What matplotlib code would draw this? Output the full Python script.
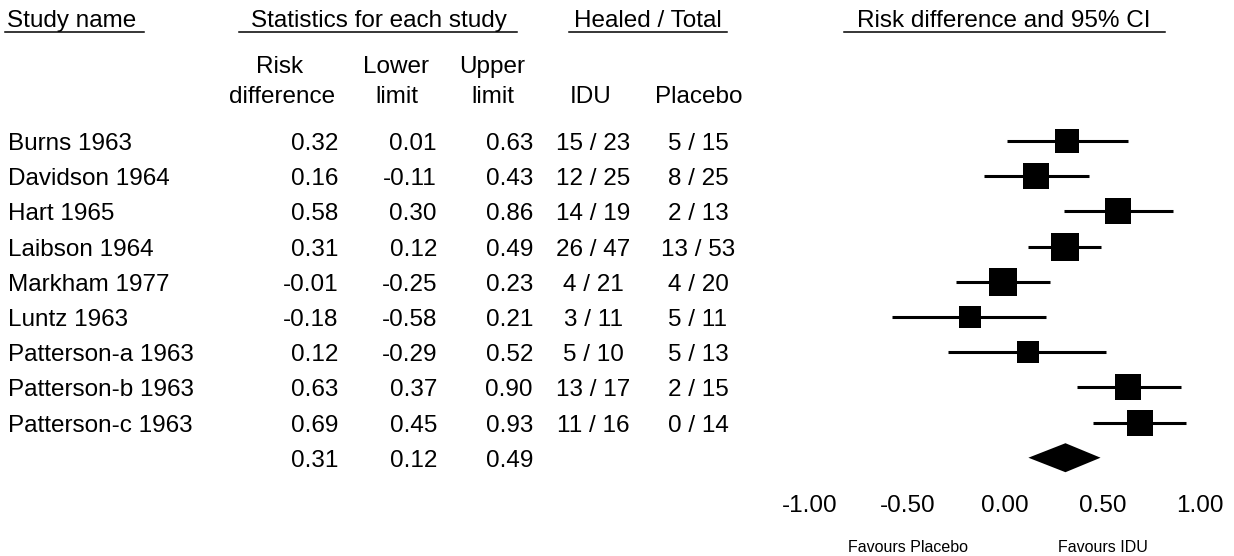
import numpy as np
import matplotlib.pyplot as plt
from matplotlib.patches import Polygon
from matplotlib.transforms import blended_transform_factory

plt.rcParams['font.family'] = ['Liberation Sans', 'DejaVu Sans']

# Study-level data
studies = ["Burns 1963", "Davidson 1964", "Hart 1965", "Laibson 1964",
           "Markham 1977", "Luntz 1963", "Patterson-a 1963",
           "Patterson-b 1963", "Patterson-c 1963"]
risk_diff = [0.32, 0.16, 0.58, 0.31, -0.01, -0.18, 0.12, 0.63, 0.69]
lower = [0.01, -0.11, 0.30, 0.12, -0.25, -0.58, -0.29, 0.37, 0.45]
upper = [0.63, 0.43, 0.86, 0.49, 0.23, 0.21, 0.52, 0.90, 0.93]
idu_healed = [15, 12, 14, 26, 4, 3, 5, 13, 11]
idu_total = [23, 25, 19, 47, 21, 11, 10, 17, 16]
placebo_healed = [5, 8, 2, 13, 4, 5, 5, 2, 0]
placebo_total = [15, 25, 13, 53, 20, 11, 13, 15, 14]
weights = [10.7, 11.5, 11.5, 13.4, 12.5, 9.0, 8.3, 11.5, 11.5]

# Pooled estimate
pooled = 0.31
pooled_lower = 0.12
pooled_upper = 0.49

x_ticks = [-1.0, -0.5, 0.0, 0.5, 1.0]

W, H = 1234, 556
fig = plt.figure(figsize=(W / 100, H / 100), dpi=100)
ax = fig.add_axes([0, 0, 1, 1])
ax.axis('off')

# risk-difference scale: 0 at x=1005px, 195px per unit; rows 35.19px apart from y=141px
ax.set_xlim(-1005 / 195, (W - 1005) / 195)
ax.set_ylim((H - 141) / 35.19, -141 / 35.19)

fs = 17.5
rows = np.arange(len(studies))
base = 9 / 35.19  # baseline offset below row centre

# forest plot
for i in rows:
    ax.plot([lower[i], upper[i]], [i, i], color='black', lw=2.2,
            solid_capstyle='butt', clip_on=False)
    side = 7.64 * np.sqrt(weights[i]) * 0.72
    ax.plot(risk_diff[i], i, marker='s', color='black', markersize=side,
            markeredgewidth=0, clip_on=False)

k = len(studies)
dh = 14.5 / 35.19
ax.add_patch(Polygon([[pooled_lower, k], [pooled, k - dh],
                      [pooled_upper, k], [pooled, k + dh]],
                     closed=True, color='black', lw=0))

for t in x_ticks:
    ax.text(t, (512 - 141) / 35.19, f"{t:.2f}", ha='center', va='baseline',
            fontsize=fs)

ax.text(-0.5, (552 - 141) / 35.19, "Favours Placebo", ha='center',
        va='baseline', fontsize=11.5)
ax.text(0.5, (552 - 141) / 35.19, "Favours IDU", ha='center',
        va='baseline', fontsize=11.5)

# table columns
tr = blended_transform_factory(fig.transFigure, ax.transData)
for i in rows:
    y = i + base
    ax.text(8 / W, y, studies[i], transform=tr, ha='left', va='baseline', fontsize=fs)
    ax.text(338 / W, y, f"{risk_diff[i]:.2f}", transform=tr, ha='right', va='baseline', fontsize=fs)
    ax.text(437 / W, y, f"{lower[i]:.2f}", transform=tr, ha='right', va='baseline', fontsize=fs)
    ax.text(533 / W, y, f"{upper[i]:.2f}", transform=tr, ha='right', va='baseline', fontsize=fs)
    ax.text(593 / W, y, f"{idu_healed[i]} / {idu_total[i]}", transform=tr,
            ha='center', va='baseline', fontsize=fs)
    ax.text(698 / W, y, f"{placebo_healed[i]} / {placebo_total[i]}", transform=tr,
            ha='center', va='baseline', fontsize=fs)

y = k + base
ax.text(338 / W, y, f"{pooled:.2f}", transform=tr, ha='right', va='baseline', fontsize=fs)
ax.text(437 / W, y, f"{pooled_lower:.2f}", transform=tr, ha='right', va='baseline', fontsize=fs)
ax.text(533 / W, y, f"{pooled_upper:.2f}", transform=tr, ha='right', va='baseline', fontsize=fs)


# headers (pixel positions converted to figure fraction)
def ftext(x, y, s, ha='center'):
    fig.text(x / W, 1 - y / H, s, ha=ha, va='baseline', fontsize=fs)


def uline(x0, x1, y=32):
    fig.add_artist(plt.Line2D([x0 / W, x1 / W], [1 - y / H, 1 - y / H],
                              color='black', lw=1.1))


ftext(7, 27, "Study name", ha='left')
uline(5, 144)
ftext(379, 27, "Statistics for each study")
uline(239, 517)
ftext(648, 27, "Healed / Total")
uline(569, 727)
ftext(1004, 27, "Risk difference and 95% CI")
uline(844, 1165)

ftext(280, 73, "Risk")
ftext(282, 103, "difference")
ftext(396, 73, "Lower")
ftext(397, 103, "limit")
ftext(492, 73, "Upper")
ftext(493, 103, "limit")
ftext(591, 103, "IDU")
ftext(699, 103, "Placebo")

fig.savefig("out.png", dpi=100)
